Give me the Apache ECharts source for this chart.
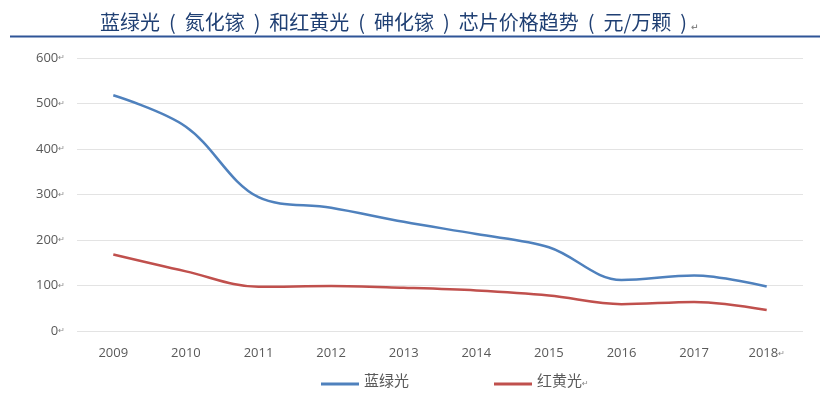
<!DOCTYPE html>
<html><head><meta charset="utf-8">
<script src="https://cdn.jsdelivr.net/npm/echarts@6/dist/echarts.min.js"></script>
<style>html,body{margin:0;padding:0;background:#fff}#c{width:820px;height:403px}</style>
</head><body><div id="c"></div>
<script>
const titleText = '蓝绿光  (  氮化镓  )  和红黄光  (  砷化镓  )  芯片价格趋势  (  元/万颗  )';
const years = ['2009','2010','2011','2012','2013','2014','2015','2016','2017','2018'];
const blueName = '蓝绿光';
const redName = '红黄光';
const blueValues = [518, 449, 294, 271, 240, 213, 184, 112, 122, 98];
const redValues = [168, 131, 97, 99, 95, 89, 78, 59, 64, 46];
const yTicks = [0, 100, 200, 300, 400, 500, 600];

const chart = echarts.init(document.getElementById('c'), null, {renderer: 'canvas'});
const font = '"Noto Sans CJK SC", "Liberation Sans", sans-serif';
chart.setOption({
  animation: false,
  title: {
    text: '{t|' + titleText + '}{r|↵}',
    left: 95, top: 7,
    textStyle: {
      rich: {
        t: {fontFamily: font, fontSize: 20, color: '#1f3f73', fontWeight: 'normal'},
        r: {fontFamily: 'DejaVu Sans', fontSize: 9, color: '#888', verticalAlign: 'bottom', padding: [8,0,0,4]}
      }
    }
  },
  graphic: [{
    type: 'line', shape: {x1: 10, y1: 36.5, x2: 820, y2: 36.5},
    style: {stroke: '#2f5597', lineWidth: 2}
  }],
  grid: {left: 77, right: 17, top: 58, bottom: 72},
  legend: {
    bottom: 10, left: 316, itemGap: 85,
    icon: 'rect', itemWidth: 38, itemHeight: 3,
    data: [blueName, redName],
    formatter: function (n) { return n === redName ? '{l|' + n + '}{r|↵}' : '{l|' + n + '}'; },
    textStyle: {
      rich: {
        l: {fontFamily: font, fontSize: 15, color: '#595959', padding: [0,0,8,0]},
        r: {fontFamily: 'DejaVu Sans', fontSize: 8, color: '#888'}
      }
    }
  },
  xAxis: {
    type: 'category', data: years, boundaryGap: true,
    axisLine: {show: false}, axisTick: {show: false},
    axisLabel: {
      margin: 16, interval: 0,
      formatter: function (v, i) { return i === years.length - 1 ? '{v|' + v + '}{r|↵}' : '{v|' + v + '}'; },
      rich: {
        v: {fontFamily: '"Open Sans", "Liberation Sans", sans-serif', fontSize: 13, color: '#595959'},
        r: {fontFamily: 'DejaVu Sans', fontSize: 8, color: '#888'}
      }
    }
  },
  yAxis: {
    type: 'value', min: 0, max: 600, interval: 100,
    axisLine: {show: false}, axisTick: {show: false},
    splitLine: {lineStyle: {color: '#e3e3e3', width: 1}},
    axisLabel: {
      margin: 12,
      formatter: function (v) { return '{v|' + v + '}{r|↵}'; },
      rich: {
        v: {fontFamily: '"Open Sans", "Liberation Sans", sans-serif', fontSize: 13, color: '#595959'},
        r: {fontFamily: 'DejaVu Sans', fontSize: 8, color: '#888'}
      }
    }
  },
  series: [
    {name: blueName, type: 'line', data: blueValues, smooth: 0.35, symbol: 'none',
     lineStyle: {color: '#4f81bd', width: 2.5}, itemStyle: {color: '#4f81bd'}},
    {name: redName, type: 'line', data: redValues, smooth: 0.35, symbol: 'none',
     lineStyle: {color: '#c0504d', width: 2.5}, itemStyle: {color: '#c0504d'}}
  ]
});
</script></body></html>
